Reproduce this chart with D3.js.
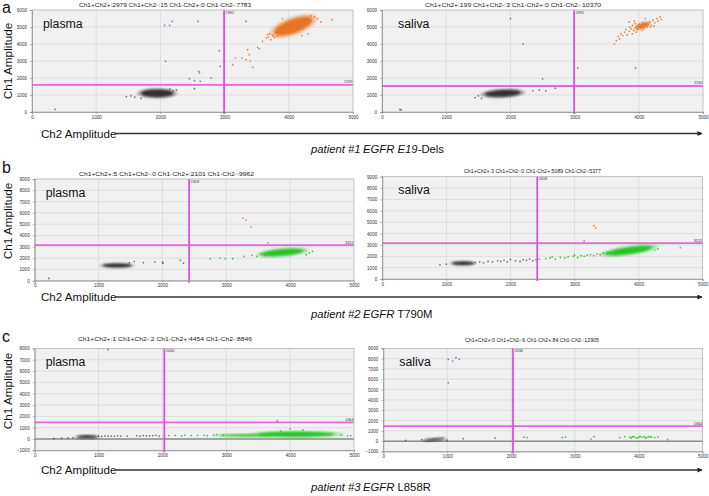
<!DOCTYPE html>
<html><head><meta charset="utf-8">
<script src="https://cdn.jsdelivr.net/npm/d3@7/dist/d3.min.js"></script>
<style>
html,body{margin:0;padding:0;background:#fff;}
svg{display:block;font-family:"Liberation Sans",Arial,sans-serif;}
</style></head>
<body>
<svg id="chart" width="709" height="496"></svg>
<script>
// ---------------- DATA ----------------
const rowLetters = ["a", "b", "c"];
const sampleNames = ["plasma", "saliva", "plasma", "saliva", "plasma", "saliva"];
const patients = ["patient #1", "patient #2", "patient #3"];
const geneItalic = ["EGFR E19", "EGFR", "EGFR"];
const geneRegular = ["-Dels", " T790M", " L858R"];
const panelTitles = [
  "Ch1+Ch2+:2979 Ch1+Ch2-:15 Ch1-Ch2+:0 Ch1-Ch2-:7783",
  "Ch1+Ch2+:199 Ch1+Ch2-:3 Ch1-Ch2+:0 Ch1-Ch2-:10370",
  "Ch1+Ch2+:5 Ch1+Ch2-:0 Ch1-Ch2+:2101 Ch1-Ch2-:9962",
  "Ch1+Ch2+:3 Ch1+Ch2-:0 Ch1-Ch2+:5089 Ch1-Ch2-:5377",
  "Ch1+Ch2+:1 Ch1+Ch2-:2 Ch1-Ch2+:4454 Ch1-Ch2-:8846",
  "Ch1+Ch2+:0 Ch1+Ch2-:6 Ch1-Ch2+:84 Ch1-Ch2-:12905"
];
const xTicks = [0, 1000, 2000, 3000, 4000, 5000];
const yDomains = [[0, 6000], [0, 6000], [0, 9000], [0, 9000], [-1000, 8000], [-1000, 9000]];
const ch2Thresholds = [2992, 2992, 2418, 2418, 2030, 2030];
const ch1Thresholds = [1599, 1530, 3152, 3152, 1464, 1464];
const xAxisLabel = "Ch2 Amplitude";
const yAxisLabel = "Ch1 Amplitude";

// clusters: [Ch2 centre, Ch1 centre, Ch2 half-spread, Ch1 half-spread, tilt (deg), kind]
const clustersA1 = [[1950, 1100, 250, 230, 0, "neg"], [4070, 5050, 310, 410, -20, "dbl"]];
const clustersA2 = [[1880, 1100, 280, 200, -3, "neg"], [4060, 5080, 110, 140, -20, "dbl"]];
const clustersB1 = [[1290, 1350, 220, 170, 0, "neg"], [3880, 2500, 330, 280, -5, "ch2"]];
const clustersB2 = [[1260, 1380, 170, 150, 0, "neg"], [3850, 2500, 370, 290, -8, "ch2"]];
const clustersC1 = [[820, 200, 160, 120, 0, "neg"], [4100, 420, 600, 220, 0, "ch2"], [3300, 320, 420, 90, 0, "ch2"]];
const clustersC2 = [[800, 170, 160, 100, -5, "neg"]];

// single droplets: [Ch2, Ch1, kind]
const pointsA1 = [
  [360,160,"neg"],[1470,900,"neg"],[1540,950,"neg"],[1600,870,"neg"],[1700,800,"neg"],[2200,1250,"neg"],[2250,1300,"neg"],[2150,1350,"neg"],[2530,1370,"neg"],[3333,5335,"neg"],
  [2065,5100,"ch1"],[2143,5100,"ch1"],[2185,5335,"ch1"],[2583,5335,"ch1"],[2081,2980,"ch1"],[2919,3606,"ch1"],[2930,2688,"ch1"],[2598,2394,"ch1"],[2609,2294,"ch1"],[2790,2000,"ch1"],[2453,1960,"ch1"],[2531,1843,"ch1"],[2620,1806,"ch1"],
  [4669,5430,"dbl"],[3168,3176,"dbl"],[3272,3176,"dbl"],[3359,3665,"dbl"],[3385,3370,"dbl"],[3333,3076,"dbl"],[3126,2782,"dbl"],[3437,2629,"dbl"],[3514,3806,"dbl"],[3540,3724,"dbl"],[3592,4159,"dbl"],[3644,4353,"dbl"],[3670,4547,"dbl"],[3722,4253,"dbl"],[3773,4394,"dbl"],[3700,4600,"dbl"],[3750,4500,"dbl"],[3800,4650,"dbl"],[3820,4450,"dbl"],[3680,4400,"dbl"],[4400,5600,"dbl"],[4450,5500,"dbl"],[4500,5300,"dbl"],[4350,5650,"dbl"],[3900,5500,"dbl"],[4200,4500,"dbl"],[4300,4600,"dbl"],[3400,3000,"dbl"]
];
const pointsA2 = [
  [280,150,"neg"],[300,120,"neg"],[1450,850,"neg"],[1500,950,"neg"],[1550,800,"neg"],[2350,1250,"neg"],[2450,1300,"neg"],[2550,1250,"neg"],[2700,1400,"neg"],[2500,1950,"neg"],[2200,4000,"neg"],[2000,5500,"neg"],[3050,2600,"neg"],[3950,2600,"neg"],
  [3620,4000,"dbl"],[3650,4200,"dbl"],[3680,4450,"dbl"],[3700,4300,"dbl"],[3720,4600,"dbl"],[3750,4500,"dbl"],[3780,4700,"dbl"],[3800,4850,"dbl"],[3820,4550,"dbl"],[3850,4750,"dbl"],[3860,5000,"dbl"],[3880,4900,"dbl"],[3900,5100,"dbl"],[3920,4800,"dbl"],[3940,5200,"dbl"],[3950,4950,"dbl"],[3970,5050,"dbl"],[3980,4850,"dbl"],[4000,5000,"dbl"],[4010,5150,"dbl"],[4030,4950,"dbl"],[4050,5100,"dbl"],[4060,5250,"dbl"],[4080,4900,"dbl"],[4100,5050,"dbl"],[4110,5200,"dbl"],[4130,5000,"dbl"],[4150,5150,"dbl"],[4170,5300,"dbl"],[4200,5100,"dbl"],[4220,5400,"dbl"],[4250,5250,"dbl"],[4280,5500,"dbl"],[4300,5350,"dbl"],[4330,5600,"dbl"],[4350,5450,"dbl"],[3900,4600,"dbl"],[3960,4700,"dbl"],[4050,4800,"dbl"],[4180,5000,"dbl"],[3850,5300,"dbl"],[4100,5500,"dbl"],[3930,5350,"dbl"],[4240,5050,"dbl"]
];
const pointsB1 = [
  [220,200,"neg"],[1480,1600,"neg"],[1560,1700,"neg"],[1700,1600,"neg"],[1880,1650,"neg"],[2000,1650,"neg"],[2280,1800,"neg"],[2330,1550,"neg"],[2010,1550,"neg"],
  [2750,1950,"ch2"],[2900,2000,"ch2"],[2980,1950,"ch2"],[3100,1950,"ch2"],[3280,2150,"ch2"],[3400,2250,"ch2"],[3480,2150,"ch2"],[3550,2350,"ch2"],[3600,2250,"ch2"],[4300,2450,"ch2"],[4350,2600,"ch2"],[4250,2300,"ch2"],
  [3260,5550,"dbl"],[3310,5350,"dbl"],[3390,4750,"dbl"],[3650,3350,"dbl"]
];
const pointsB2 = [
  [900,1250,"neg"],[1000,1300,"neg"],[1450,1450,"neg"],[1520,1500,"neg"],[1580,1420,"neg"],[1650,1550,"neg"],[1720,1500,"neg"],[1800,1600,"neg"],[1850,1550,"neg"],[1900,1650,"neg"],[1950,1500,"neg"],[2000,1700,"neg"],[2080,1600,"neg"],[2150,1550,"neg"],[2200,1700,"neg"],[2250,1650,"neg"],[2300,1750,"neg"],[2350,1600,"neg"],[2400,1700,"neg"],
  [2450,1750,"ch2"],[2550,1800,"ch2"],[2620,1850,"ch2"],[2700,1750,"ch2"],[2780,1900,"ch2"],[2850,1850,"ch2"],[2900,1950,"ch2"],[2980,2000,"ch2"],[3050,1900,"ch2"],[3100,2050,"ch2"],[3150,2000,"ch2"],[3200,2100,"ch2"],[3250,2150,"ch2"],[3300,2050,"ch2"],[3350,2200,"ch2"],[3400,2150,"ch2"],[3450,2300,"ch2"],[3500,2250,"ch2"],[3550,2350,"ch2"],[4250,2550,"ch2"],[4300,2650,"ch2"],[4650,2750,"ch2"],[2650,1950,"ch2"],[3000,2100,"ch2"],
  [3300,4700,"dbl"],[3330,4500,"dbl"],[3150,3350,"dbl"]
];
const pointsC1 = [
  [300,50,"neg"],[420,80,"neg"],[520,100,"neg"],[600,120,"neg"],[1000,250,"neg"],[1050,230,"neg"],[1100,270,"neg"],[1150,250,"neg"],[1200,260,"neg"],[1250,240,"neg"],[1300,280,"neg"],[1350,250,"neg"],[1450,260,"neg"],[1600,280,"neg"],[1650,250,"neg"],[1700,300,"neg"],[1750,270,"neg"],[1800,280,"neg"],[1850,300,"neg"],[1900,330,"neg"],[1950,260,"neg"],[3800,1600,"neg"],
  [2100,300,"ch2"],[2200,320,"ch2"],[2300,280,"ch2"],[2350,350,"ch2"],[2450,300,"ch2"],[2550,330,"ch2"],[2650,350,"ch2"],[2700,290,"ch2"],[2800,330,"ch2"],[2850,380,"ch2"],[2950,350,"ch2"],[4900,280,"ch2"],[4950,300,"ch2"],[4800,350,"ch2"],[3850,700,"ch2"],[4000,900,"ch2"],[4200,800,"ch2"],
  [1150,7900,"ch1"]
];
const pointsC2 = [
  [350,80,"neg"],[600,150,"neg"],[1250,250,"neg"],[1750,300,"neg"],[1000,100,"neg"],
  [2200,400,"ch2"],[2250,350,"ch2"],[2800,350,"ch2"],[2850,400,"ch2"],[3250,200,"ch2"],[3300,450,"ch2"],[3700,350,"ch2"],[3780,450,"ch2"],[3860,380,"ch2"],[3900,420,"ch2"],[3950,350,"ch2"],[4000,400,"ch2"],[4050,380,"ch2"],[4080,450,"ch2"],[4120,360,"ch2"],[4150,410,"ch2"],[4200,380,"ch2"],[4250,350,"ch2"],[4300,400,"ch2"],[3880,320,"ch2"],[3920,450,"ch2"],[3980,300,"ch2"],[4020,460,"ch2"],[4100,300,"ch2"],[4180,440,"ch2"],[4450,150,"ch2"],
  [1017,7932,"ch1"],[1086,7767,"ch1"],[1138,8087,"ch1"],[1189,7932,"ch1"],[1017,5660,"ch1"]
];
const clusterSets = [clustersA1, clustersA2, clustersB1, clustersB2, clustersC1, clustersC2];
const pointSets = [pointsA1, pointsA2, pointsB1, pointsB2, pointsC1, pointsC2];

// ---------------- LAYOUT / STYLE ----------------
const plots = [
  {x0: 32,    x1: 353,   y0: 10,    y1: 112},
  {x0: 382,   x1: 703,   y0: 10,    y1: 112},
  {x0: 34.7,  x1: 354,   y0: 179,   y1: 280.7},
  {x0: 382.3, x1: 702.7, y0: 176.7, y1: 279},
  {x0: 34.7,  x1: 354,   y0: 348.5, y1: 450.3},
  {x0: 383.3, x1: 702.7, y0: 348.3, y1: 451.5}
];
const titlePos = [
  {x: 79, w: 172, y: 6.5}, {x: 425, w: 176, y: 6.5},
  {x: 79, w: 175, y: 176}, {x: 464, w: 137, y: 172.5},
  {x: 78, w: 174, y: 341}, {x: 465, w: 134, y: 342}
];
const rowLayout = [
  {letterY: 13, ylabY: 61, xlabY: 137.5, lineY: 133.5, patY: 153},
  {letterY: 173, ylabY: 221, xlabY: 300.5, lineY: 297, patY: 318},
  {letterY: 342, ylabY: 391, xlabY: 474, lineY: 470, patY: 491}
];
const colors = {neg: "#2b2b2b", ch1: "#4f72b8", ch2: "#1fc21f", dbl: "#e8701c"};
const magenta = "#df4fdf";

const svg = d3.select("#chart");
const defs = svg.append("defs");
defs.append("filter").attr("id", "soft").attr("x", "-50%").attr("y", "-50%").attr("width", "200%").attr("height", "200%")
  .append("feGaussianBlur").attr("stdDeviation", 0.9);
defs.append("marker").attr("id", "arrow").attr("viewBox", "0 0 10 10").attr("refX", 9).attr("refY", 5)
  .attr("markerWidth", 7).attr("markerHeight", 5).attr("markerUnits", "userSpaceOnUse").attr("orient", "auto")
  .append("path").attr("d", "M0,0 L10,5 L0,10 Z").attr("fill", "#222");

plots.forEach((p, i) => {
  const x = d3.scaleLinear().domain([xTicks[0], xTicks[xTicks.length - 1]]).range([p.x0, p.x1]);
  const y = d3.scaleLinear().domain(yDomains[i]).range([p.y1, p.y0]);
  const yTicks = d3.range(yDomains[i][0], yDomains[i][1] + 1, 1000);
  const g = svg.append("g");
  const cid = "clip" + i;
  defs.append("clipPath").attr("id", cid).append("rect")
    .attr("x", p.x0).attr("y", p.y0).attr("width", p.x1 - p.x0).attr("height", p.y1 - p.y0);

  g.append("rect").attr("x", p.x0).attr("y", p.y0).attr("width", p.x1 - p.x0).attr("height", p.y1 - p.y0)
    .attr("fill", "#f1f1f1");
  // grid
  g.append("g").selectAll("line").data(xTicks.slice(1, -1)).join("line")
    .attr("x1", d => x(d)).attr("x2", d => x(d)).attr("y1", p.y0).attr("y2", p.y1)
    .attr("stroke", "#d6d6d6").attr("stroke-width", 0.7);
  g.append("g").selectAll("line").data(yTicks.slice(1, -1)).join("line")
    .attr("x1", p.x0).attr("x2", p.x1).attr("y1", d => y(d)).attr("y2", d => y(d))
    .attr("stroke", "#d6d6d6").attr("stroke-width", 0.7);
  if (yDomains[i][0] < 0) {
    g.append("line").attr("x1", p.x0).attr("x2", p.x1).attr("y1", y(0)).attr("y2", y(0))
      .attr("stroke", "#8c8c8c").attr("stroke-width", 1.6);
  }
  const data = g.append("g").attr("clip-path", `url(#${cid})`);
  // clusters
  clusterSets[i].forEach(c => {
    const cx = x(c[0]), cy = y(c[1]);
    const rx = x(c[0] + c[2]) - cx, ry = cy - y(c[1] + c[3]);
    data.append("ellipse").attr("cx", cx).attr("cy", cy).attr("rx", rx * 1.25).attr("ry", ry * 1.3)
      .attr("transform", `rotate(${c[4]},${cx},${cy})`).attr("fill", colors[c[5]]).attr("opacity", 0.35)
      .attr("filter", "url(#soft)");
    data.append("ellipse").attr("cx", cx).attr("cy", cy).attr("rx", rx).attr("ry", ry)
      .attr("transform", `rotate(${c[4]},${cx},${cy})`).attr("fill", colors[c[5]]).attr("opacity", 0.95)
      .attr("filter", "url(#soft)");
  });
  // droplets
  data.append("g").selectAll("circle").data(pointSets[i]).join("circle")
    .attr("cx", d => x(d[0])).attr("cy", d => y(d[1])).attr("r", 0.85)
    .attr("fill", d => colors[d[2]]).attr("opacity", d => d[2] === "neg" ? 0.65 : 0.9);

  // thresholds
  g.append("line").attr("x1", x(ch2Thresholds[i])).attr("x2", x(ch2Thresholds[i])).attr("y1", p.y0).attr("y2", p.y1 + 2)
    .attr("stroke", magenta).attr("stroke-width", 1.8);
  g.append("line").attr("x1", p.x0).attr("x2", p.x1).attr("y1", y(ch1Thresholds[i])).attr("y2", y(ch1Thresholds[i]))
    .attr("stroke", magenta).attr("stroke-width", 1.8).attr("opacity", 0.85);
  g.append("text").attr("x", x(ch2Thresholds[i]) + 1.5).attr("y", p.y0 + 3.5).attr("font-size", 3.8)
    .attr("fill", "#333").text(ch2Thresholds[i]);
  g.append("text").attr("x", p.x1 - 0.5).attr("y", y(ch1Thresholds[i]) - 1.5).attr("font-size", 3.8)
    .attr("text-anchor", "end").attr("fill", "#333").text(ch1Thresholds[i]);

  // border
  g.append("rect").attr("x", p.x0).attr("y", p.y0).attr("width", p.x1 - p.x0).attr("height", p.y1 - p.y0)
    .attr("fill", "none").attr("stroke", "#a8a8a8").attr("stroke-width", 0.7);

  // axes
  const ax = g.append("g").attr("transform", `translate(0,${p.y1})`)
    .call(d3.axisBottom(x).tickValues(xTicks).tickSize(2).tickFormat(d3.format("d")));
  const ay = g.append("g").attr("transform", `translate(${p.x0},0)`)
    .call(d3.axisLeft(y).tickValues(yTicks).tickSize(2).tickFormat(d3.format("d")));
  [ax, ay].forEach(a => {
    a.select(".domain").attr("stroke", "#888").attr("stroke-width", 0.7);
    a.selectAll(".tick line").attr("stroke", "#888").attr("stroke-width", 0.6);
    a.selectAll(".tick text").attr("font-size", 4.6).attr("fill", "#333").attr("font-family", "Liberation Sans, Arial, sans-serif");
  });
  ax.selectAll(".tick text").attr("dy", "0.9em").attr("y", 2.5);
  ay.selectAll(".tick text").attr("x", -5);

  // title
  svg.append("text").attr("x", titlePos[i].x).attr("y", titlePos[i].y).attr("font-size", 5.2)
    .attr("fill", "#222").attr("textLength", titlePos[i].w).attr("lengthAdjust", "spacingAndGlyphs")
    .text(panelTitles[i]);
  // sample name
  svg.append("text").attr("x", p.x0 + (i % 2 === 0 ? 11 : 16)).attr("y", p.y0 + 17.5)
    .attr("font-size", 12.3).attr("fill", "#111").text(sampleNames[i]);
});

rowLayout.forEach((r, k) => {
  svg.append("text").attr("x", 2).attr("y", r.letterY).attr("font-size", 16).attr("fill", "#111").text(rowLetters[k]);
  svg.append("text").attr("transform", `translate(12,${r.ylabY}) rotate(-90)`).attr("text-anchor", "middle")
    .attr("font-size", 11.8).attr("fill", "#111").text(yAxisLabel);
  svg.append("text").attr("x", 41).attr("y", r.xlabY).attr("font-size", 11.6).attr("fill", "#111").text(xAxisLabel);
  svg.append("line").attr("x1", 115).attr("x2", 702).attr("y1", r.lineY).attr("y2", r.lineY)
    .attr("stroke", "#333").attr("stroke-width", 1.3).attr("marker-end", "url(#arrow)");
  svg.append("text").attr("x", 311).attr("y", r.patY).attr("font-size", 11.3).attr("font-style", "italic")
    .attr("fill", "#111").text(patients[k]);
  const t = svg.append("text").attr("x", 363).attr("y", r.patY).attr("font-size", 11.3).attr("fill", "#111");
  t.append("tspan").attr("font-style", "italic").text(geneItalic[k]);
  t.append("tspan").text(geneRegular[k]);
});
</script>
</body></html>
